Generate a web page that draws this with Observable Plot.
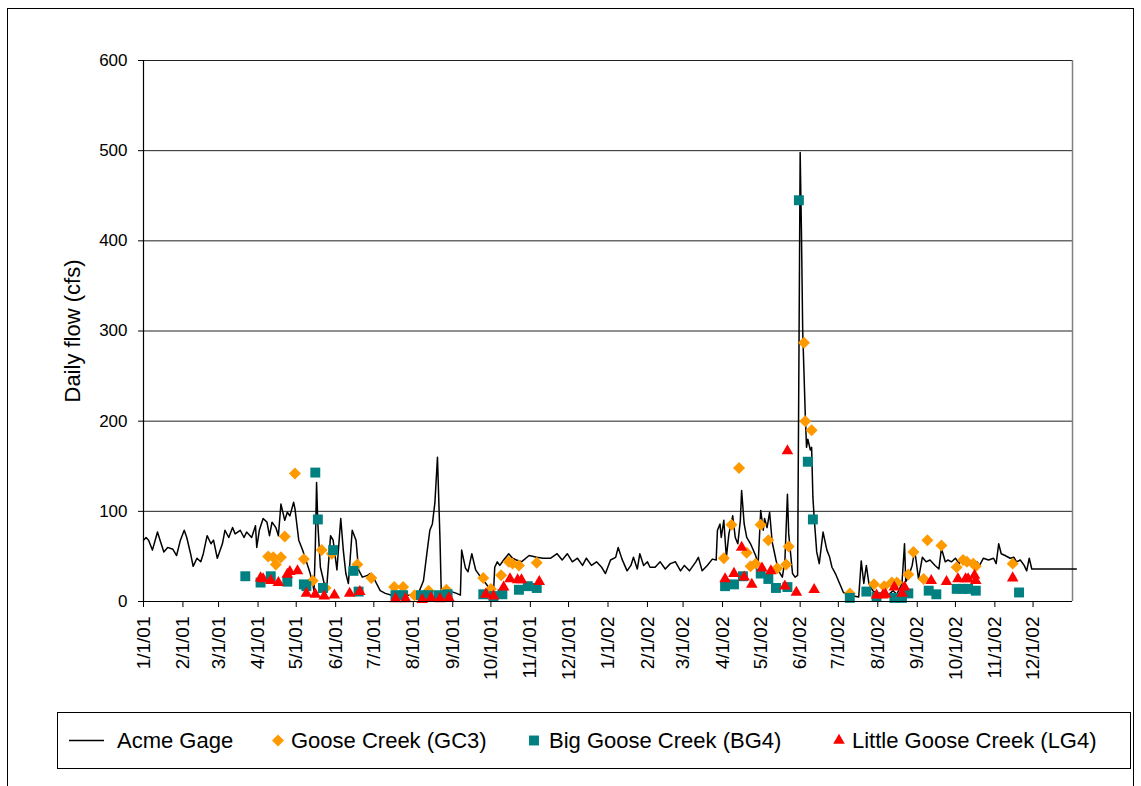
<!DOCTYPE html>
<html><head><meta charset="utf-8">
<script src="https://cdn.jsdelivr.net/npm/d3@7"></script>
<script src="https://cdn.jsdelivr.net/npm/@observablehq/plot@0.6"></script>
<style>
body{margin:0;background:#fff;font-family:"Liberation Sans",Arial,sans-serif;}
#wrap{position:relative;width:1141px;height:786px;overflow:hidden;background:#fff;}
#border{position:absolute;left:7px;top:8px;width:1125px;height:800px;border:1px solid #000;}
#chart{position:absolute;left:0;top:0;}
#legend{position:absolute;left:57px;top:712px;width:1072px;height:55px;border:1px solid #000;background:#fff;}
.lg{position:absolute;top:0;height:55px;line-height:55px;font-size:22px;white-space:nowrap;color:#000;}
.sym{position:absolute;top:0;}
</style></head>
<body>
<div id="wrap"><div id="border"></div><div id="chart"></div><div id="legend"></div></div>
<script>
// ---------- data ----------
const yTicks = [0, 100, 200, 300, 400, 500, 600];
const xTickLabels = ["1/1/01","2/1/01","3/1/01","4/1/01","5/1/01","6/1/01","7/1/01","8/1/01","9/1/01","10/1/01","11/1/01","12/1/01",
  "1/1/02","2/1/02","3/1/02","4/1/02","5/1/02","6/1/02","7/1/02","8/1/02","9/1/02","10/1/02","11/1/02","12/1/02"];
const yLabel = "Daily flow (cfs)";
const seriesNames = ["Acme Gage", "Goose Creek (GC3)", "Big Goose Creek (BG4)", "Little Goose Creek (LG4)"];

const acmeGage = [
["2001-01-01",68],["2001-01-03",71],["2001-01-05",68],["2001-01-08",57],["2001-01-12",77],["2001-01-14",68],["2001-01-17",55],["2001-01-20",60],["2001-01-24",58],["2001-01-27",51],["2001-01-30",68],
["2001-02-02",79],["2001-02-04",71],["2001-02-07",53],["2001-02-09",39],["2001-02-12",48],["2001-02-15",44],["2001-02-17",53],["2001-02-20",73],["2001-02-23",64],["2001-02-25",68],["2001-02-28",48],
["2001-03-04",64],["2001-03-06",79],["2001-03-09",71],["2001-03-12",82],["2001-03-14",75],["2001-03-18",79],["2001-03-21",71],["2001-03-23",77],["2001-03-27",71],["2001-03-30",84],["2001-03-31",60],
["2001-04-02",79],["2001-04-05",92],["2001-04-08",88],["2001-04-10",73],["2001-04-12",88],["2001-04-15",82],["2001-04-17",73],["2001-04-19",108],["2001-04-22",90],["2001-04-24",99],["2001-04-26",95],["2001-04-29",110],["2001-04-30",103],
["2001-05-03",68],["2001-05-06",57],["2001-05-10",40],["2001-05-12",31],["2001-05-15",12],["2001-05-16",60],["2001-05-17",132],["2001-05-18",86],["2001-05-20",38],["2001-05-23",20],["2001-05-25",16],["2001-05-28",73],["2001-05-30",68],["2001-05-31",57],
["2001-06-02",35],["2001-06-05",92],["2001-06-07",57],["2001-06-09",31],["2001-06-11",20],["2001-06-14",79],["2001-06-17",68],["2001-06-19",35],["2001-06-22",27],["2001-06-26",29],["2001-06-28",31],
["2001-07-02",23],["2001-07-06",12],["2001-07-10",9],["2001-07-15",7],["2001-07-21",9],["2001-07-26",7],["2001-07-31",7],
["2001-08-05",9],["2001-08-09",23],["2001-08-12",57],["2001-08-14",79],["2001-08-16",86],["2001-08-18",110],["2001-08-20",160],["2001-08-22",68],["2001-08-23",9],["2001-08-26",9],["2001-08-31",11],
["2001-09-04",9],["2001-09-07",7],["2001-09-08",57],["2001-09-11",37],["2001-09-13",33],["2001-09-16",53],["2001-09-19",35],["2001-09-23",27],["2001-09-27",20],
["2001-10-01",12],["2001-10-03",9],["2001-10-04",38],["2001-10-06",44],["2001-10-08",40],["2001-10-11",46],["2001-10-15",53],["2001-10-18",48],["2001-10-21",46],["2001-10-25",44],["2001-10-31",51],
["2001-11-06",49],["2001-11-11",48],["2001-11-17",48],["2001-11-22",53],["2001-11-26",46],["2001-11-30",53],
["2001-12-04",44],["2001-12-08",48],["2001-12-12",40],["2001-12-15",48],["2001-12-19",40],["2001-12-23",44],["2001-12-27",38],["2001-12-30",31],
["2002-01-03",46],["2002-01-07",49],["2002-01-09",60],["2002-01-12",47],["2002-01-16",34],["2002-01-19",40],["2002-01-21",49],["2002-01-24",36],["2002-01-26",53],["2002-01-29",40],
["2002-02-01",44],["2002-02-03",38],["2002-02-07",38],["2002-02-11",44],["2002-02-15",36],["2002-02-19",42],["2002-02-23",44],["2002-02-27",34],
["2002-03-02",40],["2002-03-06",34],["2002-03-11",44],["2002-03-13",49],["2002-03-16",34],["2002-03-20",40],["2002-03-24",47],["2002-03-27",46],["2002-03-28",79],["2002-03-30",86],["2002-03-31",71],
["2002-04-02",90],["2002-04-04",49],["2002-04-06",75],["2002-04-09",95],["2002-04-11",71],["2002-04-13",64],["2002-04-15",90],["2002-04-16",123],["2002-04-18",86],["2002-04-20",71],["2002-04-23",64],["2002-04-27",51],["2002-04-29",42],
["2002-05-01",101],["2002-05-03",79],["2002-05-04",92],["2002-05-06",82],["2002-05-08",99],["2002-05-10",66],["2002-05-13",46],["2002-05-15",34],["2002-05-18",27],["2002-05-20",45],["2002-05-22",119],["2002-05-23",75],["2002-05-26",31],["2002-05-28",27],["2002-05-30",29],
["2002-06-01",498],["2002-06-02",411],["2002-06-03",300],["2002-06-05",208],["2002-06-06",171],["2002-06-07",180],["2002-06-09",168],["2002-06-10",171],["2002-06-11",116],["2002-06-12",93],["2002-06-14",55],["2002-06-16",42],["2002-06-19",77],["2002-06-22",57],["2002-06-24",50],["2002-06-26",38],["2002-06-29",30],
["2002-07-02",20],["2002-07-05",10],["2002-07-08",7],["2002-07-13",6],["2002-07-17",5],["2002-07-19",45],["2002-07-21",20],["2002-07-23",40],["2002-07-25",20],["2002-07-28",12],
["2002-08-01",8],["2002-08-05",10],["2002-08-09",7],["2002-08-13",12],["2002-08-16",8],["2002-08-20",20],["2002-08-22",64],["2002-08-23",22],["2002-08-25",27],["2002-08-28",40],["2002-08-30",57],
["2002-09-02",25],["2002-09-05",49],["2002-09-08",44],["2002-09-11",46],["2002-09-15",40],["2002-09-18",36],["2002-09-20",59],["2002-09-23",44],["2002-09-25",46],["2002-09-28",44],
["2002-10-01",48],["2002-10-04",42],["2002-10-06",49],["2002-10-10",44],["2002-10-14",40],["2002-10-18",44],["2002-10-20",40],["2002-10-23",48],["2002-10-27",46],["2002-10-31",48],
["2002-11-02",42],["2002-11-04",64],["2002-11-06",53],["2002-11-09",51],["2002-11-13",48],["2002-11-16",49],["2002-11-18",44],["2002-11-21",46],["2002-11-24",40],["2002-11-26",34],["2002-11-28",48],["2002-11-30",36],
["2003-01-04",36]
];

const gooseCreekGC3 = [
["2001-04-09",50],["2001-04-13",49],["2001-04-15",41],["2001-04-19",49],["2001-04-22",72],["2001-04-30",142],["2001-05-07",47],["2001-05-14",23],["2001-05-21",57],["2001-05-24",15],["2001-05-29",53],
["2001-06-18",41],["2001-06-29",26],["2001-07-17",16],["2001-07-24",16],["2001-08-02",7],["2001-08-13",12],["2001-08-27",13],
["2001-09-25",26],["2001-10-01",14],["2001-10-09",29],["2001-10-15",44],["2001-10-18",42],["2001-10-23",40],["2001-11-06",43],
["2002-04-02",48],["2002-04-08",85],["2002-04-14",148],["2002-04-20",54],["2002-04-23",39],["2002-04-27",42],["2002-05-01",85],["2002-05-07",68],["2002-05-14",37],["2002-05-21",41],["2002-05-23",61],
["2002-06-04",287],["2002-06-05",200],["2002-06-10",190],["2002-07-10",9],["2002-07-29",19],["2002-08-06",17],["2002-08-12",21],["2002-08-16",21],["2002-08-25",30],["2002-08-29",55],
["2002-09-06",25],["2002-09-09",68],["2002-09-20",62],["2002-10-02",38],["2002-10-07",46],["2002-10-10",44],["2002-10-15",42],["2002-10-17",39],["2002-11-15",42]
];

const bigGooseBG4 = [
["2001-03-22",28],["2001-04-03",21],["2001-04-11",28],["2001-04-24",22],["2001-05-07",19],["2001-05-09",17],["2001-05-16",143],["2001-05-18",91],["2001-05-22",15],["2001-05-30",57],
["2001-06-15",34],["2001-06-19",11],["2001-07-18",7],["2001-07-24",7],["2001-08-07",7],["2001-08-13",7],["2001-08-21",7],["2001-08-28",8],
["2001-09-25",8],["2001-10-03",6],["2001-10-10",8],["2001-10-23",13],["2001-10-30",17],["2001-11-06",15],
["2002-04-03",17],["2002-04-10",19],["2002-04-17",28],["2002-05-01",31],["2002-05-07",25],["2002-05-13",15],["2002-05-22",16],["2002-05-31",445],["2002-06-07",155],["2002-06-11",91],
["2002-07-10",4],["2002-07-23",11],["2002-07-31",5],["2002-08-14",4],["2002-08-20",4],["2002-08-25",9],["2002-09-10",12],["2002-09-16",8],
["2002-10-02",14],["2002-10-07",14],["2002-10-11",14],["2002-10-17",12],["2002-11-20",10]
];

const littleGooseLG4 = [
["2001-04-03",26],["2001-04-05",25],["2001-04-11",23],["2001-04-17",21],["2001-04-24",30],["2001-04-26",33],["2001-05-02",34],["2001-05-09",9],["2001-05-16",8],["2001-05-23",6],["2001-05-31",7],
["2001-06-12",9],["2001-06-20",11],["2001-07-18",3],["2001-07-26",3],["2001-08-08",2],["2001-08-15",4],["2001-08-22",3],["2001-08-29",4],
["2001-09-27",8],["2001-10-03",6],["2001-10-11",16],["2001-10-16",25],["2001-10-22",24],["2001-10-25",24],["2001-11-08",22],
["2002-04-03",25],["2002-04-10",31],["2002-04-16",60],["2002-04-18",27],["2002-04-24",19],["2002-05-02",37],["2002-05-09",34],["2002-05-20",17],["2002-05-22",167],["2002-05-29",10],["2002-06-12",13],
["2002-07-31",7],["2002-08-05",7],["2002-08-07",8],["2002-08-14",16],["2002-08-20",9],["2002-08-22",16],
["2002-09-12",23],["2002-09-24",22],["2002-10-03",25],["2002-10-09",25],["2002-10-11",25],["2002-10-16",29],["2002-10-17",23],["2002-11-15",26]
];

// ---------- build ----------
const parse = d3.utcParse("%Y-%m-%d");
const tickParse = d3.utcParse("%m/%d/%y");
const rows = arr => arr.map(([d, v]) => ({date: parse(d), flow: v}));
const xTicks = xTickLabels.map(tickParse);
const labelByTime = new Map(xTicks.map((t, i) => [+t, xTickLabels[i]]));
const x0 = parse("2001-01-01"), x1 = parse("2003-01-01");

const COLORS = {gc3: "#FF9900", bg4: "#008080", lg4: "#FF0000"};
const FONT = "'Liberation Sans', Arial, sans-serif";

const chart = Plot.plot({
  width: 1141, height: 700,
  marginLeft: 143, marginRight: 69, marginTop: 60, marginBottom: 99,
  style: {fontFamily: FONT, fontSize: "18px", color: "#000", background: "transparent", overflow: "visible"},
  x: {type: "utc", domain: [x0, x1]},
  y: {domain: [0, 600]},
  marks: [
    Plot.gridY(yTicks.filter(t => t > 0), {stroke: "#222", strokeOpacity: 1, strokeWidth: 1}),
    Plot.ruleX([x1], {stroke: "#808080", strokeWidth: 1.5}),
    Plot.line(rows(acmeGage), {x: "date", y: "flow", stroke: "#000", strokeWidth: 1.5}),
    Plot.dot(rows(gooseCreekGC3), {x: "date", y: "flow", symbol: "diamond2", fill: COLORS.gc3, stroke: "none", r: 5.4}),
    Plot.dot(rows(bigGooseBG4), {x: "date", y: "flow", symbol: "square", fill: COLORS.bg4, stroke: "none", r: 5.6}),
    Plot.dot(rows(littleGooseLG4), {x: "date", y: "flow", symbol: "triangle", fill: COLORS.lg4, stroke: "none", r: 4.3}),
    Plot.ruleY([0], {stroke: "#000", strokeWidth: 1.2}),
    Plot.ruleX([x0], {stroke: "#000", strokeWidth: 1.2}),
    Plot.axisY({ticks: yTicks, tickSize: 5, tickPadding: 11, label: null, fontSize: 17}),
    Plot.axisX({ticks: xTicks, tickFormat: d => labelByTime.get(+d), tickRotate: -90, tickSize: 6, tickPadding: 9, label: null, fontSize: 19}),
    Plot.text([yLabel], {text: d => d, frameAnchor: "left", textAnchor: "middle", dx: -71, rotate: -90, fontSize: 22})
  ]
});
document.getElementById("chart").appendChild(chart);

// ---------- legend ----------
const legend = document.getElementById("legend");
const entries = [
  {name: seriesNames[0], kind: "line", sx: 11, tx: 59},
  {name: seriesNames[1], kind: d3.symbolDiamond2, color: COLORS.gc3, r: 5.4, sx: 220, tx: 233},
  {name: seriesNames[2], kind: d3.symbolSquare, color: COLORS.bg4, r: 5.6, sx: 476, tx: 491},
  {name: seriesNames[3], kind: d3.symbolTriangle, color: COLORS.lg4, r: 4.3, sx: 781, tx: 794}
];
for (const e of entries) {
  const svg = d3.create("svg").attr("class", "sym").attr("width", 40).attr("height", 55)
    .style("left", (e.kind === "line" ? e.sx : e.sx - 20) + "px");
  if (e.kind === "line") {
    svg.append("line").attr("x1", 0).attr("x2", 35).attr("y1", 27.5).attr("y2", 27.5).attr("stroke", "#000").attr("stroke-width", 1.5);
  } else {
    svg.append("path").attr("transform", "translate(20,27.5)")
      .attr("d", d3.symbol(e.kind, Math.PI * e.r * e.r)()).attr("fill", e.color);
  }
  legend.appendChild(svg.node());
  const t = document.createElement("div");
  t.className = "lg"; t.style.left = e.tx + "px"; t.textContent = e.name;
  legend.appendChild(t);
}
</script>
</body></html>
